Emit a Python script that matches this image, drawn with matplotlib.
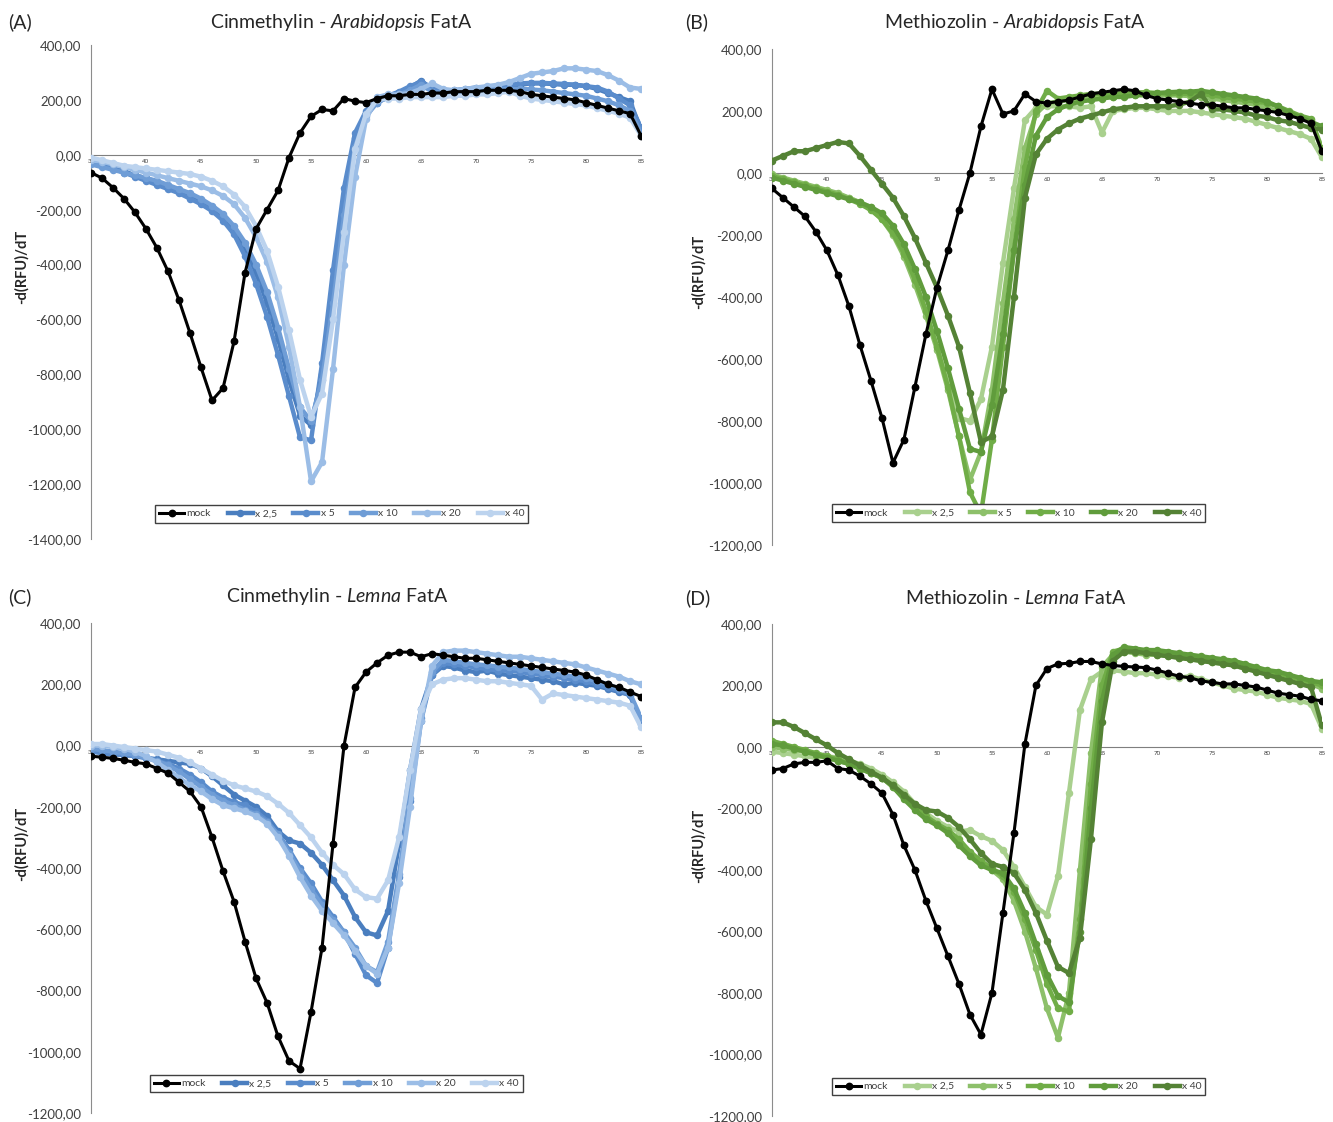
import matplotlib
matplotlib.use("Agg")
import matplotlib.pyplot as plt
from matplotlib.ticker import FuncFormatter

plt.rcParams['font.family'] = ['Lato', 'DejaVu Sans']
plt.rcParams['mathtext.fontset'] = 'custom'
plt.rcParams['mathtext.rm'] = 'Lato'
plt.rcParams['mathtext.it'] = 'Lato:italic'

# temperature (°C), one reading per degree
temps = list(range(35, 86))
labels = ['mock', 'x 2,5', 'x 5', 'x 10', 'x 20', 'x 40']

# (A) Cinmethylin - Arabidopsis FatA
a_mock = [-65, -85, -120, -160, -210, -270, -340, -425, -530, -650, -775, -895, -850, -680, -430, -270, -200,
          -130, -10, 80, 140, 165, 160, 205, 195, 190, 205, 215, 215, 220, 220, 225, 225, 230, 230, 230, 235,
          235, 235, 230, 220, 215, 210, 205, 200, 190, 180, 170, 160, 150, 70]
a_x2_5 = [-30, -40, -50, -60, -75, -85, -100, -115, -130, -145, -165, -190, -225, -270, -340, -430, -540,
          -670, -820, -950, -985, -800, -500, -180, 60, 150, 190, 210, 225, 245, 270, 240, 230, 225, 230, 235,
          240, 245, 250, 255, 260, 260, 258, 255, 255, 250, 240, 225, 210, 195, 90]
a_x5 = [-25, -35, -50, -65, -80, -95, -110, -125, -140, -160, -180, -205, -240, -290, -370, -470, -590, -730,
        -880, -1030, -1040, -760, -420, -120, 80, 160, 200, 215, 230, 250, 265, 245, 235, 235, 240, 245, 245,
        250, 255, 260, 262, 262, 260, 258, 255, 250, 245, 230, 205, 180, 100]
a_x10 = [-35, -45, -55, -65, -75, -85, -95, -110, -125, -140, -160, -185, -215, -260, -320, -400, -500, -630,
         -780, -920, -970, -820, -540, -220, 30, 140, 190, 210, 220, 235, 255, 230, 225, 220, 225, 230, 235,
         238, 240, 240, 238, 235, 230, 225, 220, 215, 205, 195, 180, 160, 80]
a_x20 = [-20, -25, -35, -45, -55, -65, -75, -85, -95, -105, -115, -130, -150, -180, -230, -300, -390, -520,
         -700, -920, -1190, -1120, -780, -400, -80, 130, 210, 220, 220, 225, 240, 260, 240, 235, 240, 245, 250,
         255, 265, 280, 295, 300, 305, 315, 315, 310, 305, 290, 270, 245, 240]
a_x40 = [-10, -20, -30, -40, -45, -50, -55, -60, -65, -70, -80, -95, -115, -145, -190, -260, -350, -480, -640,
         -820, -955, -870, -600, -280, 20, 150, 200, 205, 205, 210, 210, 210, 210, 215, 215, 220, 220, 225, 230,
         215, 205, 200, 195, 190, 185, 180, 170, 160, 150, 135, 70]

# (B) Methiozolin - Arabidopsis FatA
b_mock = [-50, -80, -110, -140, -190, -250, -330, -430, -555, -670, -790, -935, -860, -690, -520, -370, -250,
          -120, 0, 150, 270, 190, 200, 255, 230, 225, 230, 235, 245, 255, 260, 265, 270, 265, 250, 240, 235,
          230, 225, 220, 220, 215, 210, 210, 205, 200, 195, 185, 175, 160, 70]
b_x2_5 = [-10, -20, -30, -40, -50, -60, -70, -80, -95, -110, -140, -190, -260, -350, -450, -560, -680, -790,
          -800, -730, -560, -290, -50, 170, 210, 215, 215, 215, 210, 215, 130, 200, 205, 210, 210, 205, 200,
          200, 200, 195, 190, 185, 180, 175, 165, 155, 145, 135, 125, 110, 50]
b_x5 = [-5, -15, -25, -35, -45, -55, -65, -80, -95, -115, -150, -200, -270, -360, -460, -570, -700, -850,
        -990, -900, -700, -420, -150, 80, 190, 225, 230, 235, 240, 245, 245, 245, 250, 250, 250, 250, 250, 250,
        248, 245, 240, 235, 230, 225, 220, 210, 200, 190, 180, 170, 70]
b_x10 = [-10, -20, -30, -40, -50, -60, -70, -85, -100, -120, -150, -195, -260, -345, -445, -560, -690, -850,
         -1030, -1100, -860, -560, -250, 20, 200, 265, 240, 245, 250, 255, 255, 255, 258, 260, 260, 258, 255,
         255, 255, 255, 250, 245, 240, 235, 230, 225, 215, 200, 185, 175, 80]
b_x20 = [-15, -25, -35, -45, -55, -65, -75, -85, -95, -110, -130, -170, -230, -310, -400, -510, -630, -760,
         -890, -900, -750, -520, -250, -40, 120, 180, 205, 220, 230, 235, 240, 245, 245, 250, 255, 258, 260,
         262, 262, 265, 260, 255, 250, 245, 240, 230, 215, 195, 180, 165, 150]
b_x40 = [40, 55, 70, 70, 80, 90, 100, 95, 55, 10, -35, -80, -140, -210, -290, -370, -460, -560, -710, -868,
         -850, -700, -400, -80, 60, 110, 140, 160, 175, 185, 195, 205, 210, 215, 215, 215, 215, 220, 230, 255,
         205, 205, 200, 195, 185, 180, 170, 165, 155, 145, 140]

# (C) Cinmethylin - Lemna FatA
c_mock = [-35, -38, -42, -48, -55, -60, -75, -90, -120, -150, -200, -300, -410, -510, -640, -760, -840, -950,
          -1030, -1055, -870, -660, -320, 0, 190, 240, 270, 295, 305, 305, 290, 300, 295, 290, 285, 285, 280,
          275, 270, 265, 260, 255, 250, 245, 240, 230, 215, 200, 190, 175, 160]
c_x2_5 = [-15, -20, -25, -30, -35, -40, -45, -50, -55, -60, -75, -100, -130, -160, -180, -200, -230, -280,
          -310, -320, -350, -390, -440, -490, -560, -610, -620, -540, -320, -80, 120, 230, 260, 255, 245, 240,
          245, 235, 230, 225, 220, 215, 210, 200, 205, 200, 195, 185, 175, 165, 80]
c_x5 = [-20, -25, -30, -30, -35, -40, -50, -60, -75, -95, -120, -150, -170, -185, -195, -215, -245, -290,
        -340, -400, -450, -510, -560, -610, -680, -750, -775, -660, -430, -180, 80, 230, 270, 265, 260, 255,
        250, 245, 245, 240, 235, 230, 225, 220, 215, 210, 200, 190, 180, 165, 70]
c_x10 = [-10, -15, -20, -25, -30, -40, -50, -65, -85, -110, -135, -160, -180, -195, -210, -225, -250, -290,
         -350, -410, -470, -520, -570, -610, -660, -720, -740, -640, -420, -170, 90, 240, 280, 275, 270, 265,
         262, 258, 255, 250, 245, 240, 235, 230, 225, 220, 210, 200, 185, 170, 90]
c_x20 = [0, 0, -5, -10, -20, -35, -55, -80, -105, -130, -150, -175, -195, -205, -215, -230, -255, -300, -360,
         -430, -490, -540, -580, -620, -670, -720, -745, -660, -450, -200, 80, 260, 305, 310, 310, 305, 300,
         295, 290, 290, 285, 280, 275, 270, 265, 255, 245, 235, 225, 210, 200]
c_x40 = [5, 5, 0, -5, -10, -15, -20, -30, -40, -55, -75, -95, -115, -130, -140, -150, -165, -190, -220, -260,
         -300, -350, -390, -420, -470, -495, -500, -440, -300, -80, 120, 200, 215, 220, 220, 215, 210, 210, 205,
         200, 195, 150, 170, 165, 160, 155, 150, 145, 140, 130, 60]

# (D) Methiozolin - Lemna FatA
d_mock = [-75, -70, -55, -50, -50, -45, -70, -75, -95, -120, -150, -220, -320, -400, -500, -590, -680, -770,
          -870, -935, -800, -540, -280, 10, 200, 255, 270, 272, 278, 278, 270, 265, 262, 260, 258, 250, 240,
          230, 225, 215, 210, 205, 205, 200, 195, 185, 175, 170, 165, 155, 150]
d_x2_5 = [-15, -20, -25, -30, -35, -30, -35, -45, -55, -70, -90, -115, -145, -185, -215, -240, -260, -275,
          -270, -290, -305, -335, -390, -455, -520, -545, -420, -150, 120, 220, 245, 250, 245, 240, 240, 235,
          230, 225, 230, 220, 210, 200, 190, 185, 180, 170, 160, 155, 150, 140, 60]
d_x5 = [0, -5, -10, -15, -25, -35, -45, -55, -70, -85, -100, -130, -165, -200, -230, -250, -275, -305, -345,
        -380, -400, -430, -500, -600, -720, -850, -945, -800, -400, -20, 260, 300, 310, 305, 300, 300, 295,
        290, 285, 280, 275, 270, 265, 255, 250, 240, 235, 225, 215, 205, 190]
d_x10 = [20, 10, 0, -10, -20, -30, -40, -55, -70, -85, -100, -125, -160, -195, -225, -250, -270, -300, -340,
         -370, -395, -420, -470, -560, -660, -770, -850, -860, -560, -120, 200, 310, 320, 315, 310, 305, 300,
         295, 290, 285, 280, 275, 270, 265, 255, 245, 240, 230, 220, 210, 200]
d_x20 = [10, 5, -5, -15, -25, -35, -45, -55, -70, -85, -100, -130, -170, -205, -235, -255, -280, -320, -355,
         -385, -400, -410, -460, -540, -640, -740, -810, -830, -600, -200, 150, 300, 325, 320, 315, 315, 310,
         305, 300, 295, 290, 285, 280, 270, 260, 250, 245, 235, 225, 215, 210]
d_x40 = [80, 80, 65, 45, 25, 5, -20, -40, -60, -80, -100, -125, -155, -185, -205, -210, -230, -260, -300,
         -345, -380, -390, -410, -465, -540, -630, -715, -735, -620, -300, 80, 280, 310, 310, 305, 300, 295,
         290, 285, 280, 275, 270, 265, 255, 245, 235, 225, 215, 205, 195, 70]

blues = ['#4a7ebf', '#5a8ccc', '#6f9dd6', '#9bbde6', '#bcd3ee']
greens = ['#a9d08e', '#8dc06a', '#70ad47', '#609c3c', '#548235']

panels = [
    ('(A)', 'Cinmethylin - $\\mathit{Arabidopsis}$ FatA', [a_mock, a_x2_5, a_x5, a_x10, a_x20, a_x40], blues,
     [0.0683, 0.5196, 0.4126, 0.4403], (-1400, 400), (0.256, 0.980), 0.016, (0.456, 0.051)),
    ('(B)', 'Methiozolin - $\\mathit{Arabidopsis}$ FatA', [b_mock, b_x2_5, b_x5, b_x10, b_x20, b_x40], greens,
     [0.5791, 0.5143, 0.4126, 0.4421], (-1200, 400), (0.761, 0.980), 0.524, (0.449, 0.064)),
    ('(C)', 'Cinmethylin - $\\mathit{Lemna}$ FatA', [c_mock, c_x2_5, c_x5, c_x10, c_x20, c_x40], blues,
     [0.0683, 0.0080, 0.4126, 0.4367], (-1200, 400), (0.253, 0.468), 0.016, (0.446, 0.060)),
    ('(D)', 'Methiozolin - $\\mathit{Lemna}$ FatA', [d_mock, d_x2_5, d_x5, d_x10, d_x20, d_x40], greens,
     [0.5791, 0.0053, 0.4126, 0.4386], (-1200, 400), (0.762, 0.467), 0.524, (0.449, 0.060)),
]

fig = plt.figure(figsize=(13.33, 11.22), dpi=100)

for letter, title, series, cols, rect, ylim, tpos, ylab_x, legpos in panels:
    ax = fig.add_axes(rect)
    colors = ['black'] + cols
    for i, (vals, col) in enumerate(zip(series, colors)):
        if i == 0:
            ax.plot(temps, vals, color=col, lw=2.2, marker='o', ms=4.6, label=labels[i], zorder=5)
        else:
            ax.plot(temps, vals, color=col, lw=3.2, marker='o', ms=4.4, label=labels[i],
                    zorder=3 + i * 0.1)
    ax.set_xlim(35, 85)
    ax.set_ylim(*ylim)
    ax.set_yticks(range(ylim[0], 401, 200))
    ax.yaxis.set_major_formatter(FuncFormatter(lambda v, p: f"{v:.2f}".replace('.', ',')))
    ax.set_xticks(range(35, 86, 5))
    for s in ['top', 'right']:
        ax.spines[s].set_visible(False)
    ax.spines['left'].set_color('#8c8c8c')
    ax.spines['bottom'].set_position(('data', 0))
    ax.spines['bottom'].set_color('#7f7f7f')
    ax.spines['bottom'].set_zorder(1)
    ax.tick_params(axis='y', length=0, labelsize=9.5, colors='#404040', pad=7)
    ax.tick_params(axis='x', length=0, labelsize=4.5, colors='#404040', pad=3)
    ax.patch.set_alpha(0)

    leg = ax.legend(loc='center', bbox_to_anchor=legpos, ncol=6, fontsize=7.5, numpoints=1,
                    handlelength=2.4, handletextpad=0.2, columnspacing=1.6, borderpad=0.4,
                    fancybox=False, framealpha=1)
    leg.get_frame().set_edgecolor('#404040')
    leg.get_frame().set_linewidth(1.0)
    for t in leg.get_texts():
        t.set_color('#404040')
    leg.set_zorder(10)

    fig.text(tpos[0], tpos[1], title, ha='center', va='center', fontsize=14, color='#262626')
    fig.text(rect[0] - 0.062 if letter in ('(A)', '(C)') else rect[0] - 0.065, tpos[1], letter,
             ha='left', va='center', fontsize=14, color='#262626')
    fig.text(ylab_x, rect[1] + rect[3] * 0.55, '-d(RFU)/dT', rotation=90, ha='center', va='center',
             fontsize=10.5, fontweight='bold', color='#262626')

fig.savefig('out.png', dpi=100)
